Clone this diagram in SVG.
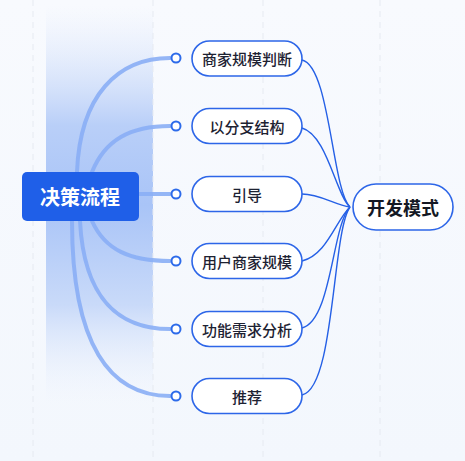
<svg xmlns="http://www.w3.org/2000/svg" width="465" height="461" viewBox="0 0 465 461">
<defs>
<linearGradient id="bg" x1="0" y1="0" x2="0" y2="1">
<stop offset="0" stop-color="#f8fafe"/>
<stop offset="1" stop-color="#f3f7fd"/>
</linearGradient>
<linearGradient id="band" x1="0" y1="0" x2="0" y2="1">
<stop offset="0" stop-color="#dfe8fb" stop-opacity="0"/>
<stop offset="0.3" stop-color="#b9cff8"/>
<stop offset="0.5" stop-color="#a9c4f7"/>
<stop offset="0.75" stop-color="#c9daf9"/>
<stop offset="1" stop-color="#eef3fd" stop-opacity="0"/>
</linearGradient>
<style>
.dash{stroke:#e6eaf1;stroke-width:1;stroke-dasharray:6 5;fill:none}
.thick{stroke:#8aaef5;stroke-width:4;fill:none;stroke-linecap:round;opacity:0.9}
.thin{stroke:#2560e6;stroke-width:1.4;fill:none}
.dot{fill:#fff;stroke:#2d6bea;stroke-width:2}
.pill{fill:#fff;stroke:#2d66e8;stroke-width:1.6}
.lbl{font-family:"Noto Sans CJK SC","Noto Sans",sans-serif;font-size:15px;font-weight:500;fill:#1d2232;text-anchor:middle;dominant-baseline:central}
</style>
</defs>
<rect width="465" height="461" fill="url(#bg)"/>
<rect x="46" y="5" width="107" height="400" fill="url(#band)"/>
<g id="grid">
<line class="dash" x1="33" y1="0" x2="33" y2="461"/>
<line class="dash" x1="153" y1="0" x2="153" y2="461"/>
<line class="dash" x1="263" y1="0" x2="263" y2="461"/>
<line class="dash" x1="380" y1="0" x2="380" y2="461"/>
</g>
<g id="connectors">
<path class="thick" d="M77,172 C80,95 118,58 170,58"/>
<path class="thick" d="M92,172 C105,140 130,126 170,126"/>
<path class="thick" d="M139,194 L170,194"/>
<path class="thick" d="M92,221 C105,250 130,261 170,261"/>
<path class="thick" d="M80,221 C84,300 120,329 170,329"/>
<path class="thick" d="M72,221 C72,345 110,396 170,396"/>
<path class="thin" d="M302,60 C330,66 332,190 350,207"/>
<path class="thin" d="M302,128 C327,135 336,195 350,207"/>
<path class="thin" d="M302,194 C320,194 335,205 350,207"/>
<path class="thin" d="M302,261 C327,255 336,220 350,207"/>
<path class="thin" d="M302,328 C332,320 332,225 350,207"/>
<path class="thin" d="M302,395 C335,388 332,232 350,207"/>
<circle class="dot" cx="176" cy="58" r="4.5"/>
<circle class="dot" cx="176" cy="126" r="4.5"/>
<circle class="dot" cx="176" cy="194" r="4.5"/>
<circle class="dot" cx="176" cy="261" r="4.5"/>
<circle class="dot" cx="176" cy="329" r="4.5"/>
<circle class="dot" cx="176" cy="396" r="4.5"/>
</g>
<g id="root">
<rect x="22" y="172" width="117" height="49" rx="5" fill="#1f5fe8"/>
<text x="80" y="196.5" font-family="Noto Sans CJK SC, Noto Sans, sans-serif" font-size="20" font-weight="700" fill="#fff" text-anchor="middle" dominant-baseline="central">决策流程</text>
</g>
<g id="n1"><rect class="pill" x="192" y="41" width="110" height="35" rx="17.5"/><text class="lbl" x="247" y="58.5">商家规模判断</text></g>
<g id="n2"><rect class="pill" x="192" y="108.5" width="110" height="35" rx="17.5"/><text class="lbl" x="247" y="126">以分支结构</text></g>
<g id="n3"><rect class="pill" x="192" y="176.5" width="110" height="35" rx="17.5"/><text class="lbl" x="247" y="194">引导</text></g>
<g id="n4"><rect class="pill" x="192" y="243.5" width="110" height="35" rx="17.5"/><text class="lbl" x="247" y="261">用户商家规模</text></g>
<g id="n5"><rect class="pill" x="192" y="311.5" width="110" height="35" rx="17.5"/><text class="lbl" x="247" y="329">功能需求分析</text></g>
<g id="n6"><rect class="pill" x="192" y="378.5" width="110" height="35" rx="17.5"/><text class="lbl" x="247" y="396">推荐</text></g>
<g id="target">
<rect x="353" y="184" width="100" height="46" rx="23" fill="#fff" stroke="#2d66e8" stroke-width="1.6"/>
<text x="403" y="207" font-family="Noto Sans CJK SC, Noto Sans, sans-serif" font-size="18" font-weight="700" fill="#141824" text-anchor="middle" dominant-baseline="central">开发模式</text>
</g>
</svg>
